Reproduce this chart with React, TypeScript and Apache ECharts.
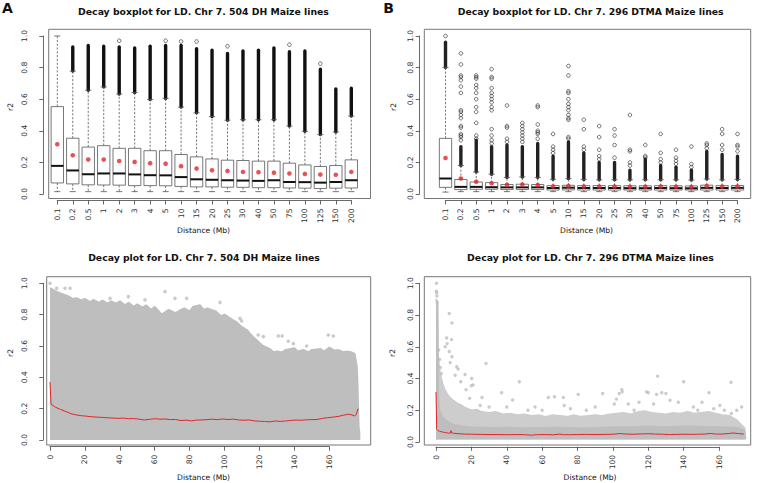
import React, { useEffect, useRef } from "react";
import * as echarts from "echarts";

// ---------- Panel A / B categories ----------
const distCats = ["0.1","0.2","0.5","1","2","3","4","5","10","15","20","25","30","40","50","75","100","125","150","200"];

// ---------- Panel A: 504 DH boxplot ----------
const aLow   = [0.015,0.015,0.015,0.015,0.015,0.015,0.015,0.015,0.015,0.015,0.015,0.015,0.015,0.015,0.015,0.015,0.015,0.015,0.015,0.015];
const aQ1    = [0.07,0.064,0.058,0.057,0.056,0.053,0.053,0.052,0.048,0.045,0.045,0.043,0.042,0.04,0.04,0.038,0.037,0.035,0.037,0.038];
const aMed   = [0.178,0.149,0.125,0.13,0.13,0.124,0.119,0.118,0.107,0.093,0.09,0.087,0.085,0.083,0.087,0.076,0.075,0.072,0.076,0.087];
const aQ3    = [0.553,0.353,0.297,0.306,0.289,0.289,0.274,0.274,0.25,0.235,0.222,0.214,0.212,0.208,0.208,0.195,0.184,0.174,0.18,0.216];
const aWhisk = [1.0,0.778,0.657,0.678,0.633,0.642,0.598,0.605,0.55,0.514,0.49,0.467,0.47,0.47,0.47,0.43,0.397,0.376,0.393,0.493];
const aMean  = [0.315,0.245,0.218,0.218,0.209,0.203,0.195,0.192,0.176,0.161,0.15,0.146,0.14,0.138,0.135,0.13,0.127,0.123,0.122,0.14];
const aOutTop = [null,0.93,0.94,0.935,0.93,0.925,0.935,0.94,0.94,0.92,0.91,0.89,0.905,0.91,0.925,0.9,0.905,0.79,0.665,0.67];
const aOutliers = [[5,0.97],[8,0.97],[9,0.965],[10,0.965],[12,0.935],[16,0.945],[18,0.825]];

// ---------- Panel B: 296 DTMA boxplot ----------
const bLow   = [0.012,0.015,0.015,0.015,0.015,0.015,0.015,0.015,0.015,0.015,0.015,0.015,0.015,0.015,0.015,0.015,0.015,0.015,0.015,0.015];
const bQ1    = [0.042,0.028,0.03,0.03,0.028,0.028,0.028,0.025,0.026,0.025,0.025,0.025,0.025,0.025,0.025,0.025,0.025,0.025,0.025,0.025];
const bMed   = [0.098,0.045,0.045,0.043,0.042,0.042,0.042,0.038,0.04,0.038,0.038,0.038,0.037,0.037,0.038,0.037,0.036,0.039,0.038,0.039];
const bQ3    = [0.352,0.092,0.076,0.072,0.06,0.062,0.06,0.053,0.055,0.053,0.053,0.053,0.052,0.052,0.053,0.052,0.051,0.056,0.053,0.054];
const bWhisk = [0.8,0.18,0.14,0.125,0.105,0.108,0.105,0.093,0.097,0.092,0.09,0.09,0.09,0.09,0.09,0.09,0.088,0.095,0.09,0.092];
const bMean  = [0.228,0.098,0.078,0.068,0.058,0.06,0.057,0.048,0.05,0.047,0.047,0.047,0.046,0.046,0.047,0.046,0.045,0.05,0.047,0.048];
const bOutTop = [0.96,0.3,0.34,0.3,0.31,0.3,0.32,0.24,0.33,0.26,0.2,0.2,0.15,0.22,0.18,0.17,0.15,0.27,0.25,0.24];
const bOutliers = [
  [1,1.0],
  [2,0.89],[2,0.82],[2,0.75],[2,0.74],[2,0.72],[2,0.68],[2,0.64],[2,0.53],[2,0.52],[2,0.5],[2,0.48],[2,0.43],[2,0.42],[2,0.38],[2,0.37],[2,0.36],[2,0.34],
  [3,0.75],[3,0.74],[3,0.73],[3,0.69],[3,0.67],[3,0.64],[3,0.6],[3,0.55],[3,0.52],[3,0.45],[3,0.37],[3,0.35],
  [4,0.79],[4,0.74],[4,0.73],[4,0.67],[4,0.64],[4,0.62],[4,0.6],[4,0.58],[4,0.55],[4,0.53],[4,0.41],[4,0.37],[4,0.34],[4,0.32],
  [5,0.56],[5,0.43],[5,0.42],[5,0.35],[5,0.33],
  [6,0.45],[6,0.43],[6,0.41],[6,0.39],[6,0.37],[6,0.35],[6,0.33],
  [7,0.56],[7,0.55],[7,0.44],[7,0.4],[7,0.39],[7,0.38],[7,0.35],
  [8,0.38],[8,0.3],[8,0.28],[8,0.26],
  [9,0.81],[9,0.75],[9,0.65],[9,0.64],[9,0.6],[9,0.57],[9,0.55],[9,0.53],[9,0.5],[9,0.48],[9,0.47],[9,0.36],[9,0.35],
  [10,0.47],[10,0.41],[10,0.3],[10,0.28],
  [11,0.43],[11,0.36],[11,0.28],[11,0.24],[11,0.22],
  [12,0.41],[12,0.37],[12,0.31],[12,0.23],
  [13,0.5],[13,0.28],[13,0.27],[13,0.2],[13,0.18],
  [14,0.31],[14,0.24],[14,0.23],
  [15,0.38],[15,0.26],[15,0.22],[15,0.2],
  [16,0.28],[16,0.23],[16,0.21],[16,0.19],
  [17,0.3],[17,0.19],[17,0.17],
  [18,0.32],[18,0.31],[18,0.29],
  [19,0.41],[19,0.38],[19,0.31],[19,0.28],
  [20,0.38],[20,0.31],[20,0.3],[20,0.27],
];

// ---------- Panel C: 504 DH decay scatter ----------
const cCloudTop = [[0,0.97],[3,0.95],[6,0.935],[10,0.92],[13,0.9],[15,0.905],[18,0.89],[20,0.9],[23,0.88],[25,0.895],[28,0.875],[30,0.89],[33,0.87],[35,0.885],[38,0.87],[40,0.885],[43,0.86],[45,0.875],[48,0.85],[50,0.865],[53,0.845],[55,0.86],[58,0.83],[60,0.85],[64,0.8],[68,0.83],[72,0.81],[75,0.83],[77,0.84],[80,0.82],[82,0.85],[86,0.86],[88,0.83],[90,0.84],[95,0.82],[98,0.79],[100,0.8],[104,0.77],[107,0.75],[110,0.72],[113,0.7],[116,0.66],[119,0.63],[122,0.6],[126,0.58],[128,0.56],[130,0.565],[133,0.56],[135,0.575],[140,0.585],[142,0.565],[145,0.575],[148,0.56],[150,0.575],[155,0.58],[157,0.565],[160,0.59],[163,0.57],[165,0.575],[168,0.56],[170,0.565],[172.5,0.56],[174.5,0.55],[175.7,0.47],[176.2,0.35],[176.5,0.2],[176.8,0.08],[177.2,0.05],[177.2,0.0]];
const cSparse = [[0,1.0],[3.8,0.968],[8.6,0.968],[11.5,0.968],[34.4,0.904],[44.9,0.915],[54.4,0.894],[65.9,0.947],[71.6,0.904],[78.3,0.904],[97.4,0.878],[108.8,0.776],[109.7,0.76],[119.3,0.67],[122.2,0.66],[130.8,0.664],[133,0.664],[136.5,0.63],[139.4,0.615],[147,0.6],[159.4,0.67],[162.3,0.664]];
const cMean = [[0,0.37],[0.3,0.3],[0.6,0.228],[3,0.21],[6,0.195],[9,0.182],[12,0.168],[15,0.16],[18,0.155],[21,0.152],[24,0.148],[27,0.146],[30,0.144],[33,0.142],[36,0.14],[39,0.138],[42,0.14],[45,0.136],[48,0.137],[51,0.133],[54,0.128],[57,0.132],[60,0.136],[63,0.133],[66,0.134],[69,0.13],[72,0.131],[75,0.124],[78,0.127],[81,0.122],[84,0.127],[87,0.128],[90,0.13],[93,0.133],[96,0.13],[99,0.134],[102,0.131],[105,0.133],[108,0.128],[111,0.126],[114,0.128],[117,0.122],[120,0.12],[123,0.118],[126,0.116],[129,0.121],[132,0.119],[135,0.121],[138,0.125],[141,0.127],[144,0.126],[147,0.129],[150,0.13],[153,0.131],[156,0.138],[159,0.142],[162,0.146],[165,0.15],[168,0.158],[171,0.165],[173,0.16],[174.5,0.153],[175.5,0.165],[176.5,0.2]];

// ---------- Panel D: 296 DTMA decay scatter ----------
const dDenseTop = [[0,0.9],[0.9,0.88],[1.3,0.3],[2,0.2],[4,0.15],[7,0.125],[10,0.11],[15,0.1],[20,0.095],[30,0.09],[40,0.092],[50,0.088],[60,0.09],[70,0.092],[80,0.088],[90,0.09],[100,0.095],[110,0.095],[120,0.1],[130,0.095],[140,0.1],[150,0.098],[160,0.095],[170,0.09],[173,0.08],[174.5,0.07],[175,0.02]];
const dLooseTop = [[0,0.9],[0.8,0.88],[1.2,0.55],[2,0.46],[3,0.4],[4,0.36],[5,0.33],[6.5,0.3],[8,0.28],[10,0.26],[12,0.245],[14,0.235],[16,0.22],[18,0.21],[20,0.2],[23,0.205],[26,0.19],[30,0.185],[34,0.19],[38,0.175],[42,0.18],[46,0.17],[50,0.175],[54,0.165],[58,0.17],[62,0.16],[66,0.17],[70,0.165],[74,0.16],[78,0.17],[82,0.16],[86,0.165],[90,0.17],[94,0.165],[98,0.175],[102,0.18],[106,0.185],[110,0.175],[114,0.19],[118,0.195],[122,0.185],[126,0.18],[130,0.175],[134,0.185],[138,0.18],[142,0.19],[146,0.18],[150,0.185],[154,0.19],[158,0.18],[162,0.17],[166,0.165],[170,0.14],[172.5,0.11],[174.5,0.09],[175,0.02]];
const dSparse = [[0.3,1.0],[0.2,0.95],[0.4,0.94],[0.5,0.92],[0.6,0.88],[1.5,0.58],[2,0.52],[2.5,0.47],[3,0.43],[7.5,0.81],[9,0.75],[6,0.655],[8.8,0.645],[6.3,0.62],[5.2,0.6],[7.5,0.57],[9,0.537],[8,0.5],[11.7,0.474],[12.5,0.46],[10.8,0.42],[16.4,0.425],[20.2,0.4],[20,0.355],[28.3,0.495],[21,0.36],[14,0.38],[17,0.33],[19,0.275],[26,0.28],[25,0.23],[30,0.22],[37.1,0.31],[43.3,0.265],[47.1,0.38],[40,0.22],[52,0.2],[56,0.22],[63.5,0.28],[60,0.2],[67,0.285],[72,0.28],[72.5,0.23],[76,0.21],[80.4,0.3],[85,0.2],[90,0.22],[94.2,0.305],[100.8,0.24],[102,0.27],[103.6,0.305],[105,0.33],[105.3,0.316],[108.7,0.24],[112,0.2],[114.8,0.25],[119,0.316],[120,0.31],[123,0.24],[124.7,0.3],[125.3,0.415],[127.6,0.31],[130,0.305],[132.3,0.263],[137,0.25],[140,0.38],[145.5,0.22],[148,0.2],[150.4,0.25],[154.3,0.31],[157,0.21],[160.5,0.23],[163,0.2],[166.8,0.377],[167,0.18],[170,0.2],[172.8,0.22]];
const dMean = [[0,0.315],[0.2,0.2],[0.4,0.08],[1,0.072],[2,0.068],[3,0.065],[4,0.062],[5,0.06],[6,0.058],[7,0.056],[8,0.055],[8.5,0.072],[8.8,0.058],[10,0.055],[13,0.052],[16,0.05],[20,0.049],[25,0.048],[30,0.047],[35,0.047],[40,0.046],[45,0.047],[50,0.046],[54,0.043],[57,0.046],[62,0.047],[66,0.045],[70,0.05],[72,0.046],[76,0.046],[80,0.047],[85,0.048],[90,0.047],[95,0.048],[100,0.049],[104,0.053],[108,0.05],[112,0.049],[116,0.051],[120,0.052],[124,0.05],[128,0.049],[132,0.047],[136,0.048],[140,0.049],[144,0.048],[148,0.049],[152,0.05],[155,0.054],[158,0.05],[162,0.05],[166,0.054],[168,0.057],[171,0.053],[174,0.05]];

const FONT = "DejaVu Sans";
const AX = "#444";
const GRAY = "#BEBEBE";
const RED = "#E2262A";

// scales of the decay panels (px per Mb), so the wider data grids match the visible axes
const C_LEFT = 50, C_W160 = 279.3, C_MAX = 178;
const D_LEFT = 436, D_W160 = 283, D_MAX = 178;

const boxRender = (params: any, api: any) => {
  const x = api.value(0);
  const low = api.coord([x, api.value(1)]);
  const q1 = api.coord([x, api.value(2)]);
  const med = api.coord([x, api.value(3)]);
  const q3 = api.coord([x, api.value(4)]);
  const top = api.coord([x, api.value(5)]);
  const band = api.size([1, 0])[0];
  const bw = band * 0.8;
  const cw = bw * 0.5;
  const cx = q1[0];
  const ws = { stroke: "#555", lineWidth: 0.8, lineDash: [2.2, 1.6] };
  const cs = { stroke: "#555", lineWidth: 0.8 };
  return {
    type: "group",
    children: [
      { type: "line", shape: { x1: cx, y1: q3[1], x2: cx, y2: top[1] }, style: ws },
      { type: "line", shape: { x1: cx, y1: q1[1], x2: cx, y2: low[1] }, style: ws },
      { type: "line", shape: { x1: cx - cw / 2, y1: top[1], x2: cx + cw / 2, y2: top[1] }, style: cs },
      { type: "line", shape: { x1: cx - cw / 2, y1: low[1], x2: cx + cw / 2, y2: low[1] }, style: cs },
      { type: "rect", shape: { x: cx - bw / 2, y: q3[1], width: bw, height: q1[1] - q3[1] }, style: { fill: "#fff", stroke: "#555", lineWidth: 0.8 } },
      { type: "line", shape: { x1: cx - bw / 2, y1: med[1], x2: cx + bw / 2, y2: med[1] }, style: { stroke: "#111", lineWidth: 2 } },
    ],
  };
};

const denseRender = (fill: string) => (params: any, api: any) => {
  const x = api.value(0);
  const p1 = api.coord([x, api.value(1)]);
  const p2 = api.coord([x, api.value(2)]);
  const w = 3.4;
  return {
    type: "rect",
    shape: { x: p1[0] - w / 2, y: p2[1] - w / 2, width: w, height: p1[1] - p2[1] + w, r: w / 2 },
    style: { fill },
  };
};

const labelStyle = { fontSize: 7.6, color: "#333", fontFamily: FONT };

function xAxisDef(gridIndex: number, min: number, max: number, interval: number, offset: number, formatter?: any) {
  return {
    type: "value", gridIndex, min, max, interval, offset,
    axisLine: { show: true, onZero: false, lineStyle: { color: AX, width: 0.8 } },
    axisTick: { show: true, length: 4, lineStyle: { color: AX, width: 0.8 } },
    axisLabel: { ...labelStyle, rotate: 90, margin: 8, formatter: formatter || ((v: number) => String(v)), showMinLabel: true, showMaxLabel: true },
    splitLine: { show: false },
  };
}
function yAxisDef(gridIndex: number, offset: number, margin: number) {
  return {
    type: "value", gridIndex, min: 0, max: 1, interval: 0.2, offset,
    axisLine: { show: true, onZero: false, lineStyle: { color: AX, width: 0.8 } },
    axisTick: { show: true, length: 4, lineStyle: { color: AX, width: 0.8 } },
    axisLabel: { ...labelStyle, rotate: 90, margin, formatter: (v: number) => v.toFixed(1), showMinLabel: true, showMaxLabel: true },
    splitLine: { show: false },
  };
}
function hiddenAxis(gridIndex: number, min: number, max: number) {
  return { type: "value", gridIndex, min, max, show: false, splitLine: { show: false } };
}

function boxSeries(axisIdx: number, low: number[], q1: number[], med: number[], q3: number[], wh: number[], mean: number[], outTop: (number | null)[], outliers: number[][], denseFill: string) {
  const boxes = distCats.map((_, i) => [i + 1, low[i], q1[i], med[i], q3[i], wh[i]]);
  const dense = distCats.map((_, i) => (outTop[i] == null ? null : [i + 1, wh[i], outTop[i]])).filter((d) => d !== null);
  const means = distCats.map((_, i) => [i + 1, mean[i]]);
  return [
    { type: "custom", xAxisIndex: axisIdx, yAxisIndex: axisIdx, renderItem: denseRender(denseFill), data: dense, encode: { x: 0, y: [1, 2] }, z: 2, silent: true },
    { type: "scatter", xAxisIndex: axisIdx, yAxisIndex: axisIdx, data: outliers, symbol: "circle", symbolSize: 3.6, itemStyle: { color: "rgba(255,255,255,0)", borderColor: "#222", borderWidth: 0.8 }, z: 2, silent: true },
    { type: "custom", xAxisIndex: axisIdx, yAxisIndex: axisIdx, renderItem: boxRender, data: boxes, encode: { x: 0, y: [1, 2, 3, 4, 5] }, z: 3, silent: true },
    { type: "scatter", xAxisIndex: axisIdx, yAxisIndex: axisIdx, data: means, symbol: "circle", symbolSize: 4.6, itemStyle: { color: RED }, z: 4, silent: true },
  ];
}

const catFormatter = (v: number) => distCats[Math.round(v) - 1] ?? "";

function frame(x: number, y: number, w: number, h: number) {
  return { type: "rect", shape: { x, y, width: w, height: h }, style: { fill: "none", stroke: "#777", lineWidth: 1 }, silent: true, z: 10 };
}
function txt(x: number, y: number, text: string, size: number, bold = false, rot = 0) {
  return {
    type: "text", x, y, rotation: rot, silent: true, z: 10,
    style: { text, fill: "#111", font: `${bold ? "bold " : ""}${size}px '${FONT}'`, align: "center", verticalAlign: "middle" },
  };
}

const titleStyle = { fontSize: 9.3, fontWeight: "bold", fontFamily: FONT, color: "#111" };

export default function App() {
  const ref = useRef<HTMLDivElement>(null);
  useEffect(() => {
    if (!ref.current) return;
    const chart = echarts.init(ref.current, null, { renderer: "svg" });
    const option: any = {
      animation: false,
      backgroundColor: "#fff",
      title: [
        { text: "Decay boxplot for LD. Chr 7. 504 DH Maize lines", left: 203.5, top: 7, textAlign: "center", padding: 0, textStyle: titleStyle },
        { text: "Decay boxplot for LD. Chr 7. 296 DTMA Maize lines", left: 590.7, top: 7, textAlign: "center", padding: 0, textStyle: titleStyle },
        { text: "Decay plot for LD. Chr 7. 504 DH Maize lines", left: 204, top: 253, textAlign: "center", padding: 0, textStyle: titleStyle },
        { text: "Decay plot for LD. Chr 7. 296 DTMA Maize lines", left: 590.5, top: 253, textAlign: "center", padding: 0, textStyle: titleStyle },
      ],
      grid: [
        { left: 57.3, top: 36, width: 294, height: 158 },
        { left: 445.5, top: 36, width: 292, height: 158 },
        { left: C_LEFT, top: 283.3, width: C_W160, height: 156.7 },
        { left: D_LEFT, top: 283.3, width: D_W160, height: 158.7 },
        // data grids of the decay panels: same scale, extended past 160 Mb
        { left: C_LEFT, top: 283.3, width: (C_W160 * C_MAX) / 160, height: 156.7 },
        { left: D_LEFT, top: 283.3, width: (D_W160 * D_MAX) / 160, height: 158.7 },
      ],
      xAxis: [
        xAxisDef(0, 1, 20, 1, 6.5, catFormatter),
        xAxisDef(1, 1, 20, 1, 6.5, catFormatter),
        xAxisDef(2, 0, 160, 20, 6.7),
        xAxisDef(3, 0, 160, 20, 4.8),
        hiddenAxis(4, 0, C_MAX),
        hiddenAxis(5, 0, D_MAX),
      ],
      yAxis: [
        yAxisDef(0, 14, 15),
        yAxisDef(1, 25.8, 5),
        yAxisDef(2, 6.7, 15),
        yAxisDef(3, 16.7, 5),
        hiddenAxis(4, 0, 1),
        hiddenAxis(5, 0, 1),
      ],
      graphic: [
        frame(48.7, 29.3, 321.8, 169.2),
        frame(424.3, 29.3, 326.4, 169.2),
        frame(46.7, 276.7, 324, 168.3),
        frame(424.3, 276.7, 326.4, 168.3),
        txt(7.5, 8, "A", 14, true),
        txt(388.5, 8, "B", 14, true),
        txt(203.5, 230, "Distance (Mb)", 7.6),
        txt(586.5, 230, "Distance (Mb)", 7.6),
        txt(203.5, 477, "Distance (Mb)", 7.6),
        txt(590, 477, "Distance (Mb)", 7.6),
        txt(10, 107, "r2", 7.6, false, Math.PI / 2),
        txt(393, 107, "r2", 7.6, false, Math.PI / 2),
        txt(10, 353, "r2", 7.6, false, Math.PI / 2),
        txt(392, 353, "r2", 7.6, false, Math.PI / 2),
      ],
      series: [
        ...boxSeries(0, aLow, aQ1, aMed, aQ3, aWhisk, aMean, aOutTop, aOutliers, "#111"),
        ...boxSeries(1, bLow, bQ1, bMed, bQ3, bWhisk, bMean, bOutTop, bOutliers, "#222"),
        { type: "line", xAxisIndex: 4, yAxisIndex: 4, data: cCloudTop, symbol: "none", clip: false, lineStyle: { color: GRAY, width: 2 }, areaStyle: { color: GRAY, opacity: 1, origin: "start" }, z: 1, silent: true },
        { type: "scatter", xAxisIndex: 4, yAxisIndex: 4, data: cSparse, symbol: "circle", symbolSize: 3.6, clip: false, itemStyle: { color: GRAY }, z: 1, silent: true },
        { type: "line", xAxisIndex: 4, yAxisIndex: 4, data: cMean, symbol: "none", clip: false, lineStyle: { color: RED, width: 1 }, z: 3, silent: true },
        { type: "line", xAxisIndex: 5, yAxisIndex: 5, data: dLooseTop, symbol: "none", clip: false, lineStyle: { color: "#CDCDCD", width: 1.5 }, areaStyle: { color: "#CDCDCD", opacity: 1, origin: 0.015 }, z: 1, silent: true },
        { type: "line", xAxisIndex: 5, yAxisIndex: 5, data: dDenseTop, symbol: "none", clip: false, lineStyle: { color: GRAY, width: 1.5 }, areaStyle: { color: GRAY, opacity: 1, origin: 0.015 }, z: 1, silent: true },
        { type: "scatter", xAxisIndex: 5, yAxisIndex: 5, data: dSparse, symbol: "circle", symbolSize: 3.4, clip: false, itemStyle: { color: GRAY }, z: 2, silent: true },
        { type: "line", xAxisIndex: 5, yAxisIndex: 5, data: dMean, symbol: "none", clip: false, lineStyle: { color: RED, width: 1 }, z: 3, silent: true },
      ],
    };
    chart.setOption(option);
    return () => chart.dispose();
  }, []);
  return <div ref={ref} style={{ position: "fixed", left: 0, top: 0, width: 760, height: 483, background: "#fff" }} />;
}
